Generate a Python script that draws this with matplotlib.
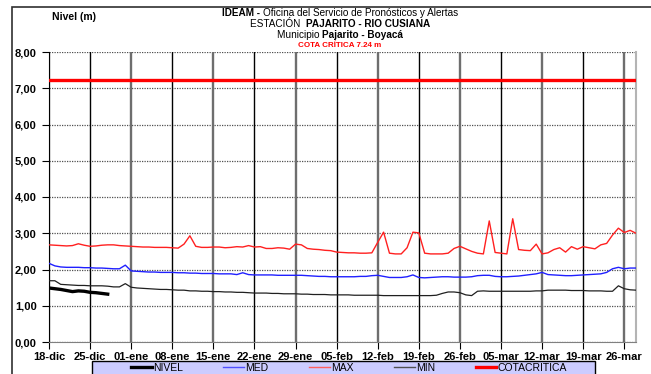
import matplotlib.pyplot as plt
from matplotlib.patches import Rectangle
from matplotlib.lines import Line2D
import numpy as np

plt.rcParams['font.family'] = ['Liberation Sans', 'DejaVu Sans']

# dias desde 18-dic
nivel = [1.49, 1.47, 1.45, 1.42, 1.39, 1.41, 1.40, 1.37, 1.36, 1.34, 1.32]

med = [2.17, 2.10, 2.07, 2.06, 2.06, 2.06, 2.05, 2.05, 2.04, 2.04,
       2.03, 2.02, 2.02, 2.12, 1.96, 1.95, 1.94, 1.93, 1.93, 1.92,
       1.92, 1.92, 1.91, 1.91, 1.90, 1.90, 1.89, 1.89, 1.89, 1.88,
       1.88, 1.88, 1.86, 1.91, 1.86, 1.85, 1.85, 1.85, 1.85, 1.84,
       1.84, 1.84, 1.84, 1.84, 1.83, 1.82, 1.81, 1.81, 1.80, 1.80,
       1.80, 1.80, 1.80, 1.81, 1.81, 1.83, 1.84, 1.81, 1.78, 1.78,
       1.78, 1.80, 1.85, 1.78, 1.77, 1.78, 1.79, 1.80, 1.80, 1.79,
       1.79, 1.79, 1.80, 1.83, 1.84, 1.84, 1.81, 1.80, 1.80, 1.81,
       1.82, 1.84, 1.86, 1.88, 1.92, 1.86, 1.85, 1.84, 1.83, 1.83,
       1.84, 1.85, 1.86, 1.87, 1.88, 1.92, 2.02, 2.06, 2.02, 2.04,
       2.04]

maxv = [2.68, 2.67, 2.66, 2.65, 2.66, 2.71, 2.67, 2.64, 2.65, 2.67,
        2.68, 2.68, 2.66, 2.65, 2.64, 2.63, 2.62, 2.62, 2.61, 2.61,
        2.61, 2.60, 2.59, 2.70, 2.93, 2.64, 2.61, 2.61, 2.62, 2.62,
        2.60, 2.61, 2.63, 2.62, 2.66, 2.62, 2.63, 2.58, 2.58, 2.60,
        2.59, 2.56, 2.70, 2.68, 2.58, 2.56, 2.55, 2.53, 2.52, 2.48,
        2.47, 2.46, 2.46, 2.45, 2.45, 2.46, 2.75, 3.03, 2.45, 2.43,
        2.43, 2.60, 3.03, 3.01, 2.45, 2.43, 2.43, 2.43, 2.45, 2.58,
        2.64, 2.57, 2.50, 2.45, 2.43, 3.34, 2.47, 2.45, 2.43, 3.40,
        2.55, 2.53, 2.52, 2.70, 2.43, 2.46, 2.55, 2.60, 2.48, 2.63,
        2.56, 2.63, 2.60, 2.57, 2.68, 2.72, 2.95, 3.14, 3.02, 3.08,
        3.00]

minv = [1.69, 1.69, 1.59, 1.58, 1.57, 1.56, 1.56, 1.55, 1.55, 1.55,
        1.54, 1.52, 1.52, 1.61, 1.51, 1.49, 1.48, 1.47, 1.46, 1.45,
        1.45, 1.44, 1.43, 1.43, 1.41, 1.41, 1.40, 1.40, 1.39, 1.39,
        1.38, 1.38, 1.37, 1.37, 1.36, 1.35, 1.35, 1.35, 1.34, 1.34,
        1.33, 1.33, 1.33, 1.32, 1.32, 1.31, 1.31, 1.31, 1.30, 1.30,
        1.30, 1.30, 1.29, 1.29, 1.29, 1.29, 1.29, 1.28, 1.28, 1.28,
        1.28, 1.28, 1.28, 1.28, 1.28, 1.28, 1.29, 1.34, 1.38, 1.38,
        1.36, 1.30, 1.28, 1.40, 1.41, 1.40, 1.40, 1.40, 1.40, 1.40,
        1.40, 1.40, 1.40, 1.41, 1.41, 1.43, 1.43, 1.43, 1.43, 1.42,
        1.42, 1.42, 1.41, 1.41, 1.41, 1.40, 1.40, 1.55, 1.47, 1.44,
        1.43]

cota = 7.24

fechas = ['18-dic', '25-dic', '01-ene', '08-ene', '15-ene', '22-ene', '29-ene',
          '05-feb', '12-feb', '19-feb', '26-feb', '05-mar', '12-mar', '19-mar', '26-mar']
niveles_y = ['0,00', '1,00', '2,00', '3,00', '4,00', '5,00', '6,00', '7,00', '8,00']

W, H = 651, 374
fig = plt.figure(figsize=(W / 100, H / 100), dpi=100)
ax = fig.add_axes([49 / W, 1 - 342 / H, (636 - 49) / W, (342 - 52) / H])

dias = np.arange(len(maxv))
ticks = np.arange(len(fechas)) * 7

for i, t in enumerate(ticks):
    if i % 2 == 0:
        ax.axvline(t, color='#6e6e6e', lw=1.7, zorder=1)
    else:
        ax.axvline(t, color='black', lw=1.0, zorder=1)

ax.plot(dias, maxv, color='#ff2020', lw=1.0, zorder=3)
ax.plot(dias, med, color='#2020ff', lw=1.0, zorder=3)
ax.plot(dias, minv, color='#202020', lw=0.9, zorder=3)
ax.plot(dias[:len(nivel)], nivel, color='black', lw=2.4, zorder=4)
ax.axhline(cota, color='#ff0000', lw=2.4, zorder=4)

ax.set_xlim(0, dias[-1])
ax.set_ylim(0, 8)
ax.set_xticks(ticks)
ax.set_xticklabels(fechas, fontsize=8, fontweight='bold')
ax.set_yticks(range(9))
ax.set_yticklabels(niveles_y, fontsize=8, fontweight='bold')
ax.tick_params(axis='both', direction='out', length=5, width=0.8, pad=2)
ax.tick_params(axis='y', pad=4)
ax.yaxis.grid(True, linestyle=(0, (1, 1)), color='#505050', lw=0.9)
ax.set_axisbelow(True)

ax.spines['top'].set_visible(False)
ax.spines['left'].set_color('black')
ax.spines['bottom'].set_color('#808080')
ax.spines['right'].set_color('#b4b4b4')
ax.spines['right'].set_linewidth(1.5)

# marco exterior
fig.patches.append(Rectangle((12 / W, -0.05), 1.0, 1 - 7 / H + 0.05, transform=fig.transFigure,
                             fill=False, ec='#303030', lw=1.2))

fig.text(52 / W, 1 - 17 / H, 'Nivel (m)', fontsize=7.5, fontweight='bold', va='center')

# titulo con partes en negrita
renderer = fig.canvas.get_renderer()
lineas = [
    ([('IDEAM - ', 'bold'), ('Oficina del Servicio de Pronósticos y Alertas', 'normal')], 12.5, 'black', 7.2),
    ([('ESTACIÓN  ', 'normal'), ('PAJARITO - RIO CUSIANA', 'bold')], 24, 'black', 7.2),
    ([('Municipio ', 'normal'), ('Pajarito - Boyacá', 'bold')], 35, 'black', 7.2),
    ([('COTA CRÍTICA 7.24 m', 'bold')], 45.5, '#ff0000', 5.8),
]
cx = 340
for partes, yy, col, fs in lineas:
    objs = [fig.text(0, 1 - yy / H, s, fontsize=fs, fontweight=w, color=col, va='center')
            for s, w in partes]
    anchos = [o.get_window_extent(renderer).width for o in objs]
    x0 = cx - sum(anchos) / 2
    for o, a in zip(objs, anchos):
        o.set_x(x0 / W)
        x0 += a

# leyenda
fig.patches.append(Rectangle((92 / W, -0.05), (595 - 92) / W, 0.05 + 1 - 361 / H,
                             transform=fig.transFigure, fc='#ccccff', ec='black', lw=1.0))
handles = [Line2D([], [], color='black', lw=2.4),
           Line2D([], [], color='#5050ff', lw=1.0),
           Line2D([], [], color='#ff6060', lw=1.0),
           Line2D([], [], color='#505050', lw=1.0),
           Line2D([], [], color='#ff0000', lw=2.4)]
fig.legend(handles, ['NIVEL', 'MED', 'MAX', 'MIN', 'COTACRITICA'], ncol=5,
           loc='center left', bbox_to_anchor=(131 / W, 1 - 368 / H), frameon=False,
           fontsize=7.5, handlelength=2.0, handletextpad=0.1, columnspacing=3.9,
           borderpad=0, borderaxespad=0)

fig.savefig('out.png', dpi=100)
